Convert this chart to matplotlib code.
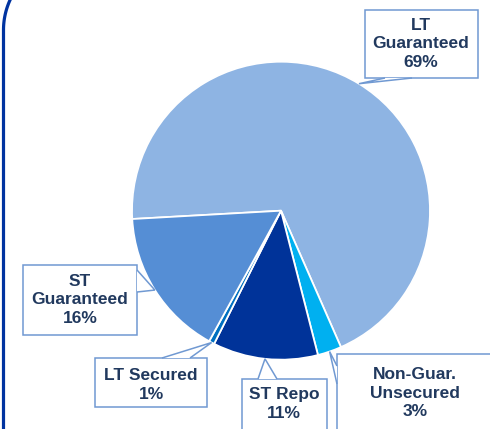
import numpy as np
import matplotlib
matplotlib.use("Agg")
import matplotlib.pyplot as plt
from matplotlib.patches import Rectangle, Polygon

# Funding mix (% share)
labels = ["LT\nGuaranteed", "Non-Guar.\nUnsecured", "ST Repo", "LT Secured", "ST\nGuaranteed"]
shares = [69.3, 2.6, 11.4, 0.6, 16.1]
colors = ["#8EB4E3", "#00B0F0", "#003399", "#0070C0", "#558ED5"]

W, H = 490, 429
fig = plt.figure(figsize=(W / 100, H / 100), dpi=100)
ax = fig.add_axes([0, 0, 1, 1])

cx, cy, r = 281, H - 210.7, 149
wedges, _ = ax.pie(shares, colors=colors, startangle=183.2, counterclock=False,
                   center=(cx, cy), radius=r,
                   wedgeprops=dict(edgecolor="white", linewidth=1.3))
ax.set_xlim(0, W)
ax.set_ylim(0, H)
ax.set_aspect("equal")
ax.axis("off")

text_col = "#21395E"
box_col = "#7099D2"

# callout boxes: (x0, y0, x1, y1) in px from top-left, text centre, pointer base points
callouts = [
    ((365, 10, 478, 78), (421, 44), [(385, 78), (412, 78)]),
    ((337, 354, 500, 440), (415, 393), [(337, 366), (337, 384)]),
    ((242, 379, 327, 440), (284, 404), [(258, 379), (277, 379)]),
    ((95, 358, 207, 407), (151, 385), [(162, 358), (190, 358)]),
    ((23, 265, 137, 335), (80, 300), [(137, 270), (137, 292)]),
]

for w, lab, pct, (box, tc, base) in zip(wedges, labels, shares, callouts):
    mid = np.deg2rad((w.theta1 + w.theta2) / 2)
    tip = (cx + r * np.cos(mid), cy + r * np.sin(mid))
    x0, y0, x1, y1 = box
    ax.add_patch(Rectangle((x0, H - y1), x1 - x0, y1 - y0, facecolor="white",
                           edgecolor=box_col, linewidth=1.1, zorder=3, clip_on=False))
    pts = [(base[0][0], H - base[0][1]), tip, (base[1][0], H - base[1][1])]
    ax.add_patch(Polygon(pts, closed=False, facecolor="white", edgecolor=box_col,
                         linewidth=1.1, zorder=4, clip_on=False))
    ax.text(tc[0], H - tc[1], f"{lab}\n{round(pct):.0f}%", ha="center", va="center",
            fontsize=12.5, fontweight="bold", color=text_col,
            family="Liberation Sans", linespacing=1.3, zorder=5)

# rounded frame corner on the left
R, yc, xl = 72, 30, 3.5
t = np.linspace(np.pi, np.pi / 2, 60)
fx = np.concatenate([[xl], xl + R + R * np.cos(t)])
fy = np.concatenate([[H + 5], H - yc + R * np.sin(t)])
fy = np.concatenate([[-5], fy[1:]])
ax.plot(fx, fy, color="#0033A0", linewidth=2.3, zorder=6, solid_capstyle="butt")

fig.savefig("out.png", dpi=100)
